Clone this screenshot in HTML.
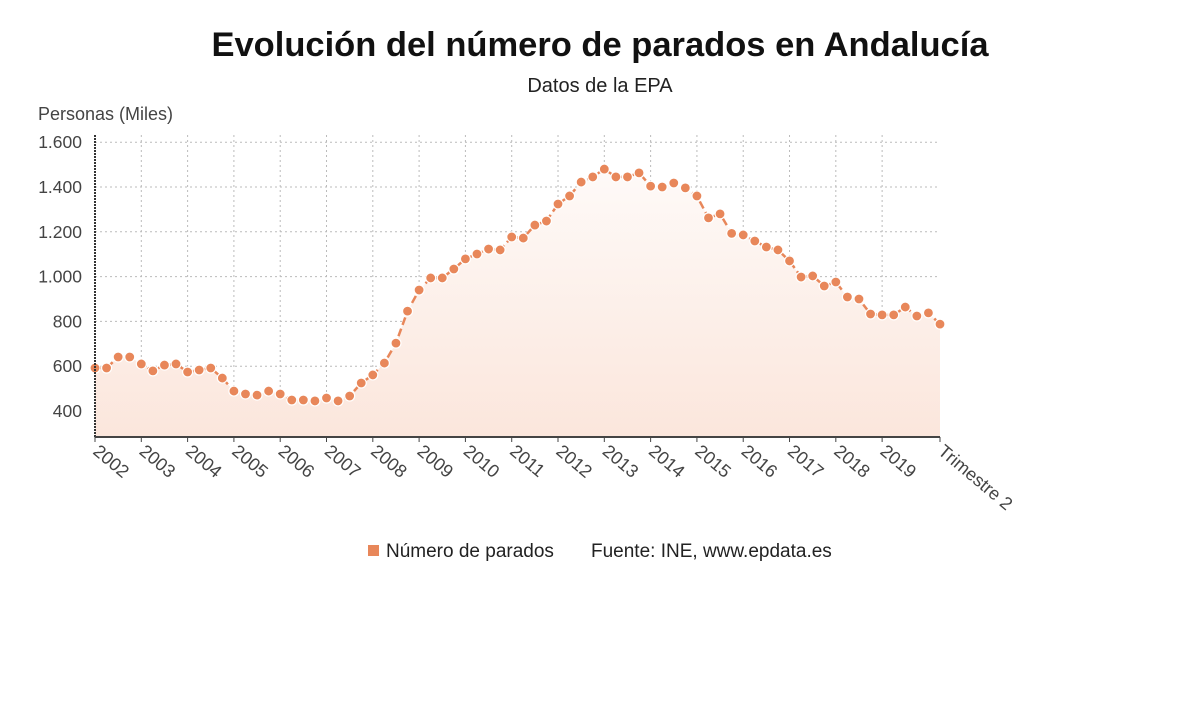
<!DOCTYPE html>
<html><head><meta charset="utf-8"><style>
body{margin:0;background:#fff;width:1200px;height:705px;overflow:hidden;font-family:"Liberation Sans",sans-serif}
</style></head><body>
<svg width="1200" height="705" style="position:absolute;left:0;top:0">
<defs><linearGradient id="g" x1="0" y1="0" x2="0" y2="1"><stop offset="0" stop-color="#fefaf8"/><stop offset="1" stop-color="#fbe6dc"/></linearGradient></defs>
<text x="600" y="56" text-anchor="middle" font-size="34.5" font-weight="bold" fill="#111">Evolución del número de parados en Andalucía</text>
<text x="600" y="92" text-anchor="middle" font-size="20" fill="#222">Datos de la EPA</text>
<text x="38" y="120" font-size="18" fill="#444">Personas (Miles)</text>
<g id="grid"></g><g id="area"></g><g id="marks"></g><g id="axes"></g>
<g>
<rect x="368" y="545" width="11" height="11" fill="#e8875a"/>
<text x="386" y="557" font-size="19" fill="#222">Número de parados</text>
<text x="591" y="557" font-size="19" fill="#222">Fuente: INE, www.epdata.es</text>
</g>
</svg>
<script>
const years=["2002","2003","2004","2005","2006","2007","2008","2009","2010","2011","2012","2013","2014","2015","2016","2017","2018","2019"];
const lastLabel="Trimestre 2";
const yTicks=[400,600,800,1000,1200,1400,1600];
const values=[592,592,641,641,610,579,605,610,574,583,592,547,489,476,471,489,476,449,449,445,458,445,467,525,561,614,703,846,940,994,994,1034,1079,1101,1123,1119,1177,1172,1230,1248,1324,1360,1422,1445,1480,1445,1445,1463,1404,1400,1418,1396,1360,1262,1280,1193,1186,1159,1132,1119,1070,998,1003,958,976,909,900,833,829,829,864,824,838,788];
const ns="http://www.w3.org/2000/svg";
const L=95,R=940,B=437,T=135;
const x=i=>L+(R-L)*i/(values.length-1);
const y=v=>411-(v-400)*44.8/200;
function mk(tag,attrs,parent){const e=document.createElementNS(ns,tag);for(const k in attrs)e.setAttribute(k,attrs[k]);document.getElementById(parent).appendChild(e);return e;}
yTicks.forEach(t=>{
 const l=mk('line',{x1:L,x2:R,y1:y(t),y2:y(t),stroke:'#bbb','stroke-dasharray':'2,3'},'grid');
 
 
 const tx=mk('text',{x:82,y:y(t)+6,'text-anchor':'end','font-size':17.5,fill:'#444'},'axes');
 tx.textContent=t.toLocaleString('de-DE');
 
 
});
const xl=years.map((s,i)=>({s,i:i*4})).concat([{s:lastLabel,i:values.length-1}]);
xl.forEach(o=>{
 const xx=x(o.i);
 if(o.i>0&&o.i<values.length-1){const l=mk('line',{x1:xx,x2:xx,y1:T,y2:B,stroke:'#bbb','stroke-dasharray':'2,3'},'grid');
 
 }
 mk('line',{x1:xx,x2:xx,y1:B,y2:B+5,stroke:'#444'},'axes');
 const tx=mk('text',{transform:`translate(${xx-3},${B+16}) rotate(40)`,'font-size':18,fill:'#444'},'axes');
 tx.textContent=o.s;
 
 
});
let d=`M${L},${B}`;values.forEach((v,i)=>d+=`L${x(i)},${y(v)}`);d+=`L${R},${B}Z`;
const a=mk('path',{d,fill:'url(#g)'},'area');


const ln=mk('polyline',{points:values.map((v,i)=>x(i)+','+y(v)).join(' '),fill:'none',stroke:'#e8875a','stroke-width':2.5,'stroke-dasharray':'8,4'},'marks');


values.forEach((v,i)=>{
 const c=mk('circle',{cx:x(i),cy:y(v),r:5,fill:'#e8875a',stroke:'#fff','stroke-width':1.2},'marks');
 
 
});
const ya=mk('line',{x1:L,x2:L,y1:T,y2:B,stroke:'#333','stroke-width':2,'stroke-dasharray':'2,1'},'axes');


const xa=mk('line',{x1:L,x2:R,y1:B,y2:B,stroke:'#444','stroke-width':2},'axes');


</script>
</body></html>
